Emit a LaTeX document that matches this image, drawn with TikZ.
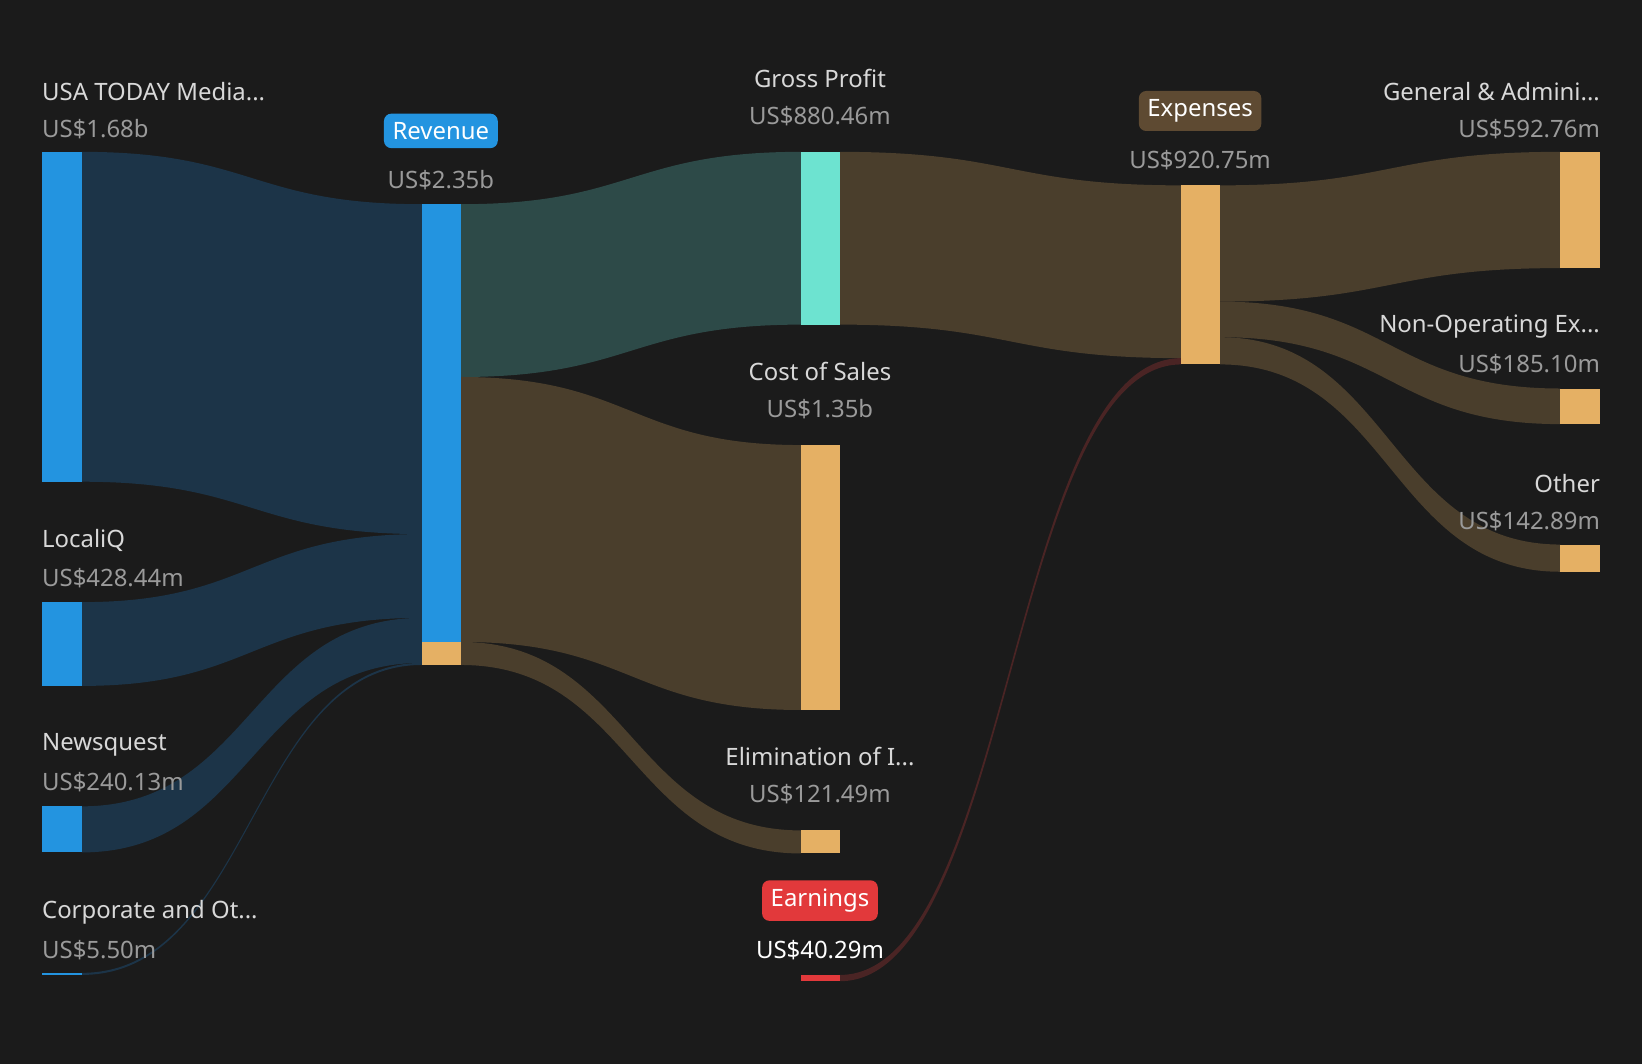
\documentclass[tikz,border=0pt]{standalone}
\usepackage{fontspec}
\setmainfont{Noto Sans}
\begin{document}
\definecolor{bg}{HTML}{1B1B1B}
\definecolor{cblue}{HTML}{2394E0}
\definecolor{fblue}{HTML}{1C3448}
\definecolor{cteal}{HTML}{6DE3D0}
\definecolor{fteal}{HTML}{2D4A48}
\definecolor{corange}{HTML}{E5B064}
\definecolor{fbrown}{HTML}{4A3E2C}
\definecolor{cred}{HTML}{E2393B}
\definecolor{fred}{HTML}{4A2424}
\definecolor{cexp}{HTML}{5E4A32}
\definecolor{lab}{HTML}{D8D8D8}
\definecolor{val}{HTML}{9A9A9A}
\newcommand\myflow[7]{\fill[#7] (#1,#2) .. controls ({(#1+#4)/2},#2) and ({(#1+#4)/2},#5) .. (#4,#5) -- (#4,#6) .. controls ({(#1+#4)/2},#6) and ({(#1+#4)/2},#3) .. (#1,#3) -- cycle;}
\begin{tikzpicture}[x=0.3mm,y=-0.3mm,
  lt/.style={text=lab,font=\fontsize{19.5}{22}\selectfont,inner sep=0},
  vt/.style={text=val,font=\fontsize{19.5}{22}\selectfont,inner sep=0},
  box/.style={rounded corners=6pt,font=\fontsize{19.5}{22}\selectfont,inner xsep=7pt,inner ysep=7pt,text=white}]
\fill[bg] (0,0) rectangle (1568,1016);
\useasboundingbox (0,0) rectangle (1568,1016);
% flows
\myflow{78}{145}{460}{403}{195}{510}{fblue}
\myflow{78}{575}{655}{403}{510}{590}{fblue}
\myflow{78}{770}{814}{403}{590}{633}{fblue}
\myflow{78}{929}{931}{403}{633}{635}{fblue}
\myflow{440}{195}{360}{765}{145}{310}{fteal}
\myflow{440}{360}{613}{765}{425}{678}{fbrown}
\myflow{440}{613}{635}{765}{793}{815}{fbrown}
\myflow{802}{145}{310}{1128}{177}{342}{fbrown}
\myflow{802}{931}{937}{1128}{342}{348}{fred}
\myflow{1165}{177}{288}{1490}{145}{256}{fbrown}
\myflow{1165}{288}{322}{1490}{371}{405}{fbrown}
\myflow{1165}{322}{348}{1490}{520}{546}{fbrown}
% bars
\fill[cblue] (40,145) rectangle (78,460);
\fill[cblue] (40,575) rectangle (78,655);
\fill[cblue] (40,770) rectangle (78,814);
\fill[cblue] (40,929) rectangle (78,931);
\fill[cblue] (403,195) rectangle (440,613);
\fill[corange] (403,613) rectangle (440,635);
\fill[cteal] (765,145) rectangle (802,310);
\fill[corange] (765,425) rectangle (802,678);
\fill[corange] (765,793) rectangle (802,815);
\fill[cred] (765,931) rectangle (802,937);
\fill[corange] (1128,177) rectangle (1165,348);
\fill[corange] (1490,145) rectangle (1528,256);
\fill[corange] (1490,371) rectangle (1528,405);
\fill[corange] (1490,520) rectangle (1528,546);
% labels
\node[lt,anchor=west] (l1) at (40,87) {USA TODAY Media...};
\node[vt,anchor=west] (v1) at (40,123) {US\$1.68b};
\node[lt,anchor=west] (l2) at (40,516) {LocaliQ};
\node[vt,anchor=west] (v2) at (40,552) {US\$428.44m};
\node[lt,anchor=west] (l3) at (40,711) {Newsquest};
\node[vt,anchor=west] (v3) at (40,747) {US\$240.13m};
\node[lt,anchor=west] (l4) at (40,871) {Corporate and Ot...};
\node[vt,anchor=west] (v4) at (40,907) {US\$5.50m};
\node[box,fill=cblue] (rev) at (421,125) {Revenue};
\node[vt] (vrev) at (421,172) {US\$2.35b};
\node[lt] (gp) at (783,75) {Gross Profit};
\node[vt] (vgp) at (783,111) {US\$880.46m};
\node[lt] (cos) at (783,355) {Cost of Sales};
\node[vt] (vcos) at (783,391) {US\$1.35b};
\node[lt] (el) at (783,722) {Elimination of I...};
\node[vt] (vel) at (783,758) {US\$121.49m};
\node[box,fill=cred] (ear) at (783,860) {Earnings};
\node[lt,text=white] (vear) at (783,907) {US\$40.29m};
\node[box,fill=cexp] (exp) at (1146,106) {Expenses};
\node[vt] (vexp) at (1146,153) {US\$920.75m};
\node[lt,anchor=east] (ga) at (1528,87) {General \& Admini...};
\node[vt,anchor=east] (vga) at (1528,123) {US\$592.76m};
\node[lt,anchor=east] (no) at (1528,312) {Non-Operating Ex...};
\node[vt,anchor=east] (vno) at (1528,348) {US\$185.10m};
\node[lt,anchor=east] (ot) at (1528,462) {Other};
\node[vt,anchor=east] (vot) at (1528,498) {US\$142.89m};
\end{tikzpicture}
\end{document}
